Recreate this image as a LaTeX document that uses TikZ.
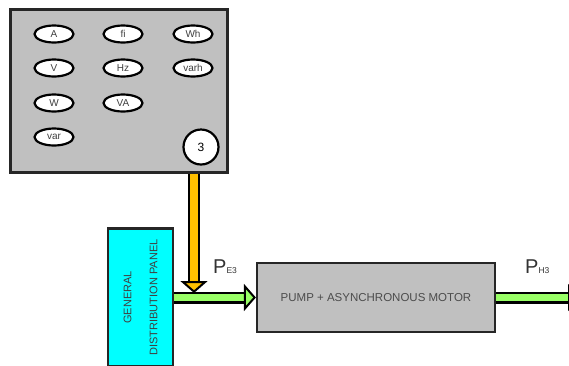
\documentclass[tikz,border=0pt]{standalone}
\usepackage{fontspec}
\setmainfont{Liberation Sans}
\usetikzlibrary{arrows.meta,shapes.geometric}

\definecolor{panelgray}{HTML}{C0C0C0}
\definecolor{pipegreen}{HTML}{99FF66}
\definecolor{pipeorange}{HTML}{FFC000}
\definecolor{boardcyan}{HTML}{00FFFF}

\tikzset{
    meter/.style={ellipse, draw=black, line width=2.2pt, fill=white, minimum width=39pt, minimum height=17pt, inner sep=0pt, text=black!75, font=\fontsize{10}{10}\selectfont},
    box/.style={draw=black!85, line width=2.2pt, inner sep=0pt},
    pipe/.style={line width=7.5pt, draw=#1, preaction={draw=black, line width=12pt, arrows=-, shorten >=10pt}, -{Triangle[length=12pt 0 0, width=27pt 0 0, line width=2pt, color=black, fill=#1]}},
    plabel/.style={anchor=base west, inner sep=0pt, text=black!80}
}

\begin{document}
\begin{tikzpicture}[x=1pt, y=-1pt]
    \useasboundingbox (0,0) rectangle (569,365);

    % measuring instrument
    \node[box, fill=panelgray, minimum width=217pt, minimum height=163pt] (meters) at (119,91) {};
    \node[meter] (mA) at (54,34) {A};
    \node[meter] (mfi) at (123,34) {fi};
    \node[meter] (mWh) at (193,34) {Wh};
    \node[meter] (mV) at (54,68) {V};
    \node[meter] (mHz) at (123,68) {Hz};
    \node[meter] (mvarh) at (193,68) {varh};
    \node[meter] (mW) at (54,103) {W};
    \node[meter] (mVA) at (123,103) {VA};
    \node[meter] (mvar) at (54,137) {var};
    \node[circle, draw=black, line width=2.2pt, fill=white, minimum size=35pt, inner sep=0pt, font=\fontsize{12}{12}\selectfont] (mnum) at (201,147) {3};

    % board and pump
    \node[box, fill=boardcyan, minimum width=65pt, minimum height=138pt] (board) at (140.5,297.5) {};
    \node[rotate=90, align=center, text=black!75, font=\fontsize{11}{26}\selectfont] (boardlbl) at (board) {GENERAL\\DISTRIBUTION PANEL};
    \node[box, fill=panelgray, minimum width=238pt, minimum height=69pt, text=black!70, font=\fontsize{11.5}{11.5}\selectfont] (pump) at (376,297.5) {PUMP + ASYNCHRONOUS MOTOR};

    \coordinate (tap) at (194,293);
    \coordinate (out) at (580,297.5);

    \draw[pipe=pipegreen] (board.east) -- (pump.west);
    \draw[pipe=pipegreen] (pump.east) -- (out);
    \draw[pipe=pipeorange] (meters.south -| tap) -- (tap);

    \node[plabel] (pe) at (213,273) {{\fontsize{20}{20}\selectfont P}{\fontsize{8.5}{8.5}\selectfont E3}};
    \node[plabel] (ph) at (525,273) {{\fontsize{20}{20}\selectfont P}{\fontsize{8.5}{8.5}\selectfont H3}};
\end{tikzpicture}
\end{document}
